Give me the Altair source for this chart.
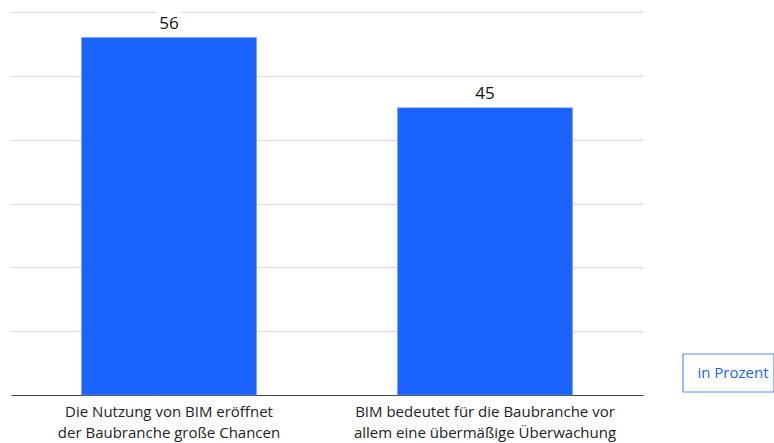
import altair as alt
import pandas as pd

categories = [
    "Die Nutzung von BIM eröffnet der Baubranche große Chancen",
    "BIM bedeutet für die Baubranche vor allem eine übermäßige Überwachung",
]
label_lines = [
    ["Die Nutzung von BIM eröffnet", "der Baubranche große Chancen"],
    ["BIM bedeutet für die Baubranche vor", "allem eine übermäßige Überwachung"],
]
values = [56, 45]
y_ticks = [0, 10, 20, 30, 40, 50, 60]
unit_label = "in Prozent"

df = pd.DataFrame({"cat": categories, "val": values})
lab_map = {c: "|".join(l) for c, l in zip(categories, label_lines)}
expr = "split(" + str(lab_map).replace("'", '"') + "[datum.label], '|')"

FONT = "Open Sans"
BLUE = "#1a63ff"

x = alt.X("cat:N", sort=None, title=None,
          scale=alt.Scale(paddingInner=0.446, paddingOuter=0.223),
          axis=alt.Axis(labelAngle=0, labelExpr=expr, labelFont=FONT,
                        labelFontSize=15, labelColor="#222222",
                        labelLineHeight=21, labelPadding=9, ticks=False,
                        grid=False, domainColor="#444444", domainWidth=1,
                        labelLimit=400))
y = alt.Y("val:Q", title=None,
          scale=alt.Scale(domain=[0, 60], nice=False),
          axis=alt.Axis(values=y_ticks, labels=False, ticks=False,
                        domain=False, gridColor="#dcdcdc", gridWidth=1))

base = alt.Chart(df)
bars = base.mark_bar(color=BLUE, stroke="#7aa3ff", strokeWidth=0.5).encode(x=x, y=y)
halo = base.mark_text(baseline="bottom", dy=-5, font=FONT, fontSize=17,
                      stroke="white", strokeWidth=11, color="white").encode(
    x=x, y=y, text="val:Q")
txt = base.mark_text(baseline="bottom", dy=-5, font=FONT, fontSize=17,
                     color="#111111").encode(x=x, y=y, text="val:Q")

box = alt.Chart(pd.DataFrame({"t": [unit_label]})).mark_rect(
    fill="white", stroke="#5a8cff", strokeWidth=1.2).encode(
    x=alt.value(672), x2=alt.value(763), y=alt.value(342), y2=alt.value(380))
boxtxt = alt.Chart(pd.DataFrame({"t": [unit_label]})).mark_text(
    font=FONT, fontSize=15, color=BLUE, align="center", baseline="middle").encode(
    x=alt.value(722), y=alt.value(361), text="t:N")

chart = alt.layer(bars, halo, txt, box, boxtxt).properties(
    width=632, height=383,
    background="white",
    autosize=alt.AutoSizeParams(type="none"),
    padding={"left": 11, "top": 12, "right": 131, "bottom": 48},
).configure_view(stroke="transparent", strokeWidth=0, clip=False)

chart.save("out.html", embed_options={"renderer": "svg", "actions": False})
